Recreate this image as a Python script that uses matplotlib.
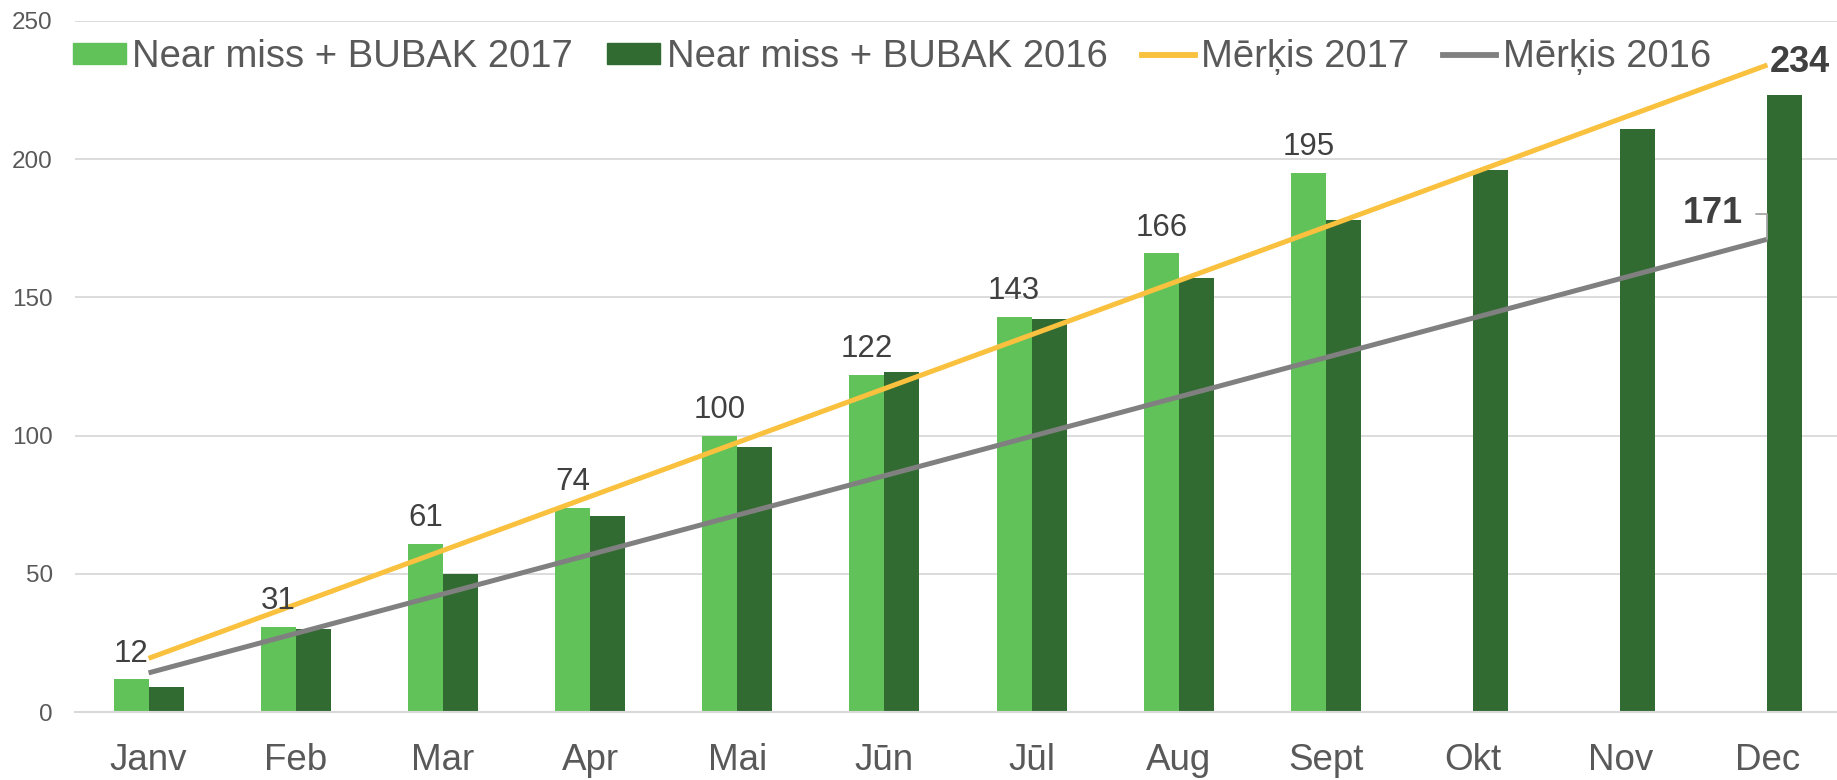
import matplotlib
matplotlib.use("Agg")
import matplotlib.pyplot as plt
from matplotlib.patches import Patch
from matplotlib.lines import Line2D
import numpy as np

months = ["Janv", "Feb", "Mar", "Apr", "Mai", "Jūn", "Jūl", "Aug", "Sept", "Okt", "Nov", "Dec"]
bubak_2017 = [12, 31, 61, 74, 100, 122, 143, 166, 195]
bubak_2016 = [9, 30, 50, 71, 96, 123, 142, 157, 178, 196, 211, 223]
merkis_2017 = [19.5, 39, 58.5, 78, 97.5, 117, 136.5, 156, 175.5, 195, 214.5, 234]
merkis_2016 = [14.25, 28.5, 42.75, 57, 71.25, 85.5, 99.75, 114, 128.25, 142.5, 156.75, 171]
y_ticks = [0, 50, 100, 150, 200, 250]

plt.rcParams['font.family'] = ['Liberation Sans', 'DejaVu Sans']

C_LIGHT = '#62C25A'
C_DARK = '#326B32'
C_YEL = '#F9C13E'
C_GREY = '#808080'
C_TXT = '#404040'
C_TICK = '#595959'
C_GRID = '#D9D9D9'

W, H = 1837, 780
fig = plt.figure(figsize=(W / 100, H / 100), dpi=100)
ax = fig.add_axes([75 / W, (H - 712.3) / H, 1766 / W, 691.6 / H])

x = np.arange(len(months))
bw = 0.238
ax.bar(x[:len(bubak_2017)] - bw / 2, bubak_2017, width=bw, color=C_LIGHT, zorder=2)
ax.bar(x + bw / 2, bubak_2016, width=bw, color=C_DARK, zorder=2)
ax.plot(x, merkis_2017, color=C_YEL, lw=3.6, zorder=3, solid_capstyle='butt')
ax.plot(x, merkis_2016, color=C_GREY, lw=3.6, zorder=3, solid_capstyle='butt')

for i, v in enumerate(bubak_2017):
    ax.annotate(str(v), xy=(i - bw / 2, v), xytext=(0, 12.5), textcoords='offset points',
                ha='center', va='baseline', fontsize=22.5, color=C_TXT, zorder=5)

ax.annotate(str(merkis_2017[-1]), xy=(x[-1], merkis_2017[-1]), xytext=(2, -5),
            textcoords='offset points', ha='left', va='baseline', fontsize=26,
            fontweight='bold', color=C_TXT, zorder=5, annotation_clip=False)
ax.annotate(str(merkis_2016[-1]), xy=(x[-1], merkis_2016[-1]), xytext=(-18, 11.5),
            textcoords='offset points', ha='right', va='baseline', fontsize=26,
            fontweight='bold', color=C_TXT, zorder=5,
            arrowprops=dict(arrowstyle='-', color='#A6A6A6', lw=1.3,
                            connectionstyle='angle,angleA=0,angleB=90,rad=0',
                            relpos=(1, 0.5), shrinkA=8, shrinkB=0))

ax.set_xlim(-0.5, len(months) - 0.5)
ax.set_ylim(0, 250)
ax.set_yticks(y_ticks)
ax.set_yticklabels([str(t) for t in y_ticks])
ax.set_xticks(x)
ax.set_xticklabels(months)
ax.yaxis.grid(True, color=C_GRID, lw=1.3, zorder=0)
ax.set_axisbelow(True)
for s in ['top', 'right', 'left']:
    ax.spines[s].set_visible(False)
ax.spines['bottom'].set_color(C_GRID)
ax.spines['bottom'].set_linewidth(1.5)
ax.tick_params(axis='x', length=0, pad=22, labelsize=26.5, labelcolor=C_TICK)
ax.tick_params(axis='y', length=0, pad=16, labelsize=17.5, labelcolor=C_TICK)

handles = [Patch(color=C_LIGHT), Patch(color=C_DARK),
           Line2D([], [], color=C_YEL, lw=4.2), Line2D([], [], color=C_GREY, lw=4.2)]
labels = ["Near miss + BUBAK 2017", "Near miss + BUBAK 2016", "Mērķis 2017", "Mērķis 2016"]
fig.legend(handles, labels, loc='center left', bbox_to_anchor=(73 / W, 1 - 57 / H),
           ncol=4, frameon=False, fontsize=27.5, handlelength=1.39, handleheight=0.5,
           handletextpad=0.16, columnspacing=0.9, borderpad=0, borderaxespad=0,
           labelcolor=C_TICK)

fig.savefig("out.png", dpi=100)
